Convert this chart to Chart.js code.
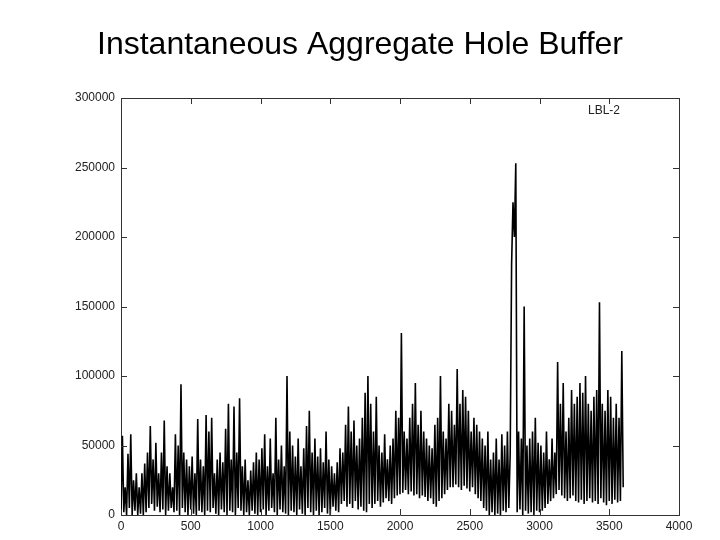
<!DOCTYPE html>
<html>
<head>
<meta charset="utf-8">
<script src="https://cdn.jsdelivr.net/npm/chart.js@4"></script>
<style>
  body { margin: 0; background: #fff; }
  #wrap { width: 720px; height: 540px; }
</style>
</head>
<body>
<div id="wrap"><canvas id="c"></canvas></div>
<script>
// Time step between samples (seconds)
const step = 20;

// Local peaks per 20 s bin (thousands of bytes)
const peaks = [
  57,20,44,58,25,30,20,30,37,45,
  64,40,52,30,45,68,35,30,20,58,
  50,94,45,40,35,42,30,69,40,35,
  72,60,70,30,40,45,38,62,80,40,
  78,45,84,35,40,25,32,38,45,40,
  48,58,35,55,30,70,40,50,35,100,
  60,50,42,55,35,48,64,75,45,55,
  42,48,38,60,40,35,30,38,48,45,
  65,78,60,68,50,55,70,88,100,80,
  60,85,50,45,58,40,50,55,75,70,
  131,60,55,70,80,95,65,75,60,55,
  50,48,65,70,100,60,55,80,75,65,
  105,80,90,85,75,60,70,65,60,55,
  50,60,40,45,55,40,58,50,60,45,
  225,253,60,55,150,50,55,60,70,52,
  50,45,60,40,55,45,110,80,95,60,
  70,90,80,85,95,88,100,80,75,85,
  90,153,80,75,90,85,70,80,70,118
];

// Local troughs per 20 s bin (thousands of bytes)
const troughs = [
  0,2,0,5,0,3,0,1,0,2,
  5,8,3,6,2,4,0,3,5,2,
  3,0,5,2,0,4,1,0,3,2,
  0,3,2,5,1,0,4,2,0,3,
  2,0,5,3,0,2,0,3,1,0,
  2,4,0,3,5,2,0,4,2,1,
  0,3,2,0,4,1,0,5,2,0,
  3,0,2,5,1,0,6,3,2,8,
  10,6,8,5,10,4,6,3,2,8,
  5,8,10,6,9,12,10,8,12,14,
  15,16,18,15,17,14,15,12,14,13,
  10,12,8,6,10,12,15,18,20,20,
  22,20,18,21,19,17,20,15,12,10,
  5,3,0,2,0,1,0,3,2,5,
  180,200,2,4,0,3,1,2,0,3,
  2,3,5,8,10,12,15,18,14,12,
  10,12,14,10,9,11,8,10,12,9,
  10,8,12,9,7,10,8,11,9,10
];

const seriesLabel = "LBL-2";
const chartTitle = "Instantaneous Aggregate Hole Buffer";

// zigzag trough -> peak for each bin
const points = [];
peaks.forEach((p, i) => {
  points.push({ x: i * step, y: troughs[i] * 1000 });
  points.push({ x: i * step + step / 2, y: p * 1000 });
});
points.push({ x: peaks.length * step, y: 20000 });

const tickFont = { family: "Liberation Sans", size: 12 };

// inward tick marks on all four sides + the key text
const frameTicks = {
  id: "frameTicks",
  afterDraw(chart) {
    const ctx = chart.ctx;
    const a = chart.chartArea;
    const sx = chart.scales.x, sy = chart.scales.y;
    ctx.save();
    ctx.strokeStyle = "#333";
    ctx.lineWidth = 1;
    ctx.beginPath();
    sx.ticks.forEach(t => {
      const px = Math.round(sx.getPixelForValue(t.value)) + 0.5;
      ctx.moveTo(px, a.bottom); ctx.lineTo(px, a.bottom - 6);
      ctx.moveTo(px, a.top); ctx.lineTo(px, a.top + 6);
    });
    sy.ticks.forEach(t => {
      const py = Math.round(sy.getPixelForValue(t.value)) + 0.5;
      ctx.moveTo(a.left, py); ctx.lineTo(a.left + 6, py);
      ctx.moveTo(a.right, py); ctx.lineTo(a.right - 6, py);
    });
    ctx.stroke();
    ctx.font = "12px 'Liberation Sans'";
    ctx.fillStyle = "#222";
    ctx.textAlign = "right";
    ctx.textBaseline = "middle";
    ctx.fillText(seriesLabel, a.right - 59, a.top + 13);
    ctx.restore();
  }
};

const noGrid = { display: false };

new Chart(document.getElementById("c"), {
  type: "line",
  data: {
    datasets: [{
      data: points,
      borderColor: "#000",
      borderWidth: 1.6,
      pointRadius: 0,
      tension: 0
    }]
  },
  options: {
    responsive: true,
    maintainAspectRatio: false,
    animation: false,
    layout: { padding: 0 },
    plugins: {
      legend: { display: false },
      tooltip: { enabled: false },
      title: {
        display: true,
        text: chartTitle,
        color: "#000",
        font: { family: "Liberation Sans", size: 32, weight: "normal", lineHeight: 1.2 },
        padding: { top: 26, bottom: 33.6 }
      }
    },
    scales: {
      x: {
        type: "linear", min: 0, max: 4000,
        ticks: { stepSize: 500, color: "#222", font: tickFont, maxRotation: 0, padding: 4, callback: v => String(v) },
        grid: { drawOnChartArea: false, drawTicks: false },
        border: { color: "#333", width: 1 },
        afterFit: s => { s.height = 25; }
      },
      xTop: {
        type: "linear", position: "top", min: 0, max: 4000,
        ticks: { display: false },
        grid: noGrid,
        border: { color: "#333", width: 1 },
        afterFit: s => { s.height = 0; }
      },
      y: {
        min: 0, max: 300000,
        ticks: { stepSize: 50000, color: "#222", font: tickFont, padding: 6, callback: v => String(v) },
        grid: { drawOnChartArea: false, drawTicks: false },
        border: { color: "#333", width: 1 },
        afterFit: s => { s.width = 121; }
      },
      yRight: {
        position: "right", min: 0, max: 300000,
        ticks: { display: false },
        grid: noGrid,
        border: { color: "#333", width: 1 },
        afterFit: s => { s.width = 41; }
      }
    }
  },
  plugins: [frameTicks]
});
</script>
</body>
</html>
